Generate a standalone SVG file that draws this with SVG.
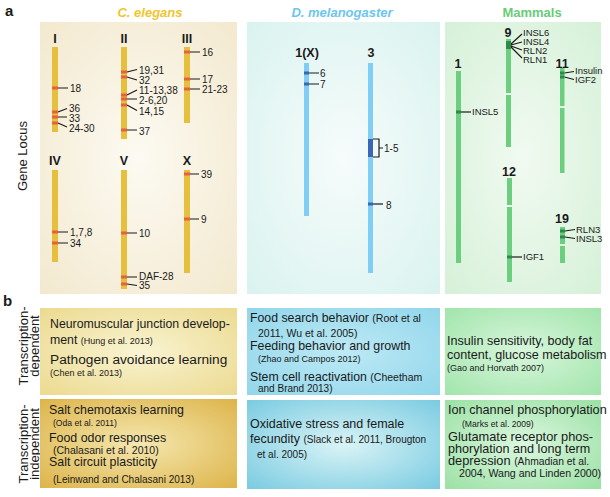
<svg xmlns="http://www.w3.org/2000/svg" width="610" height="497" viewBox="0 0 610 497">
<defs>
<radialGradient id="ceBg" cx="50%" cy="50%" r="70%"><stop offset="0" stop-color="#fcfaf2"/><stop offset="1" stop-color="#f3e9cf"/></radialGradient>
<radialGradient id="dmBg" cx="50%" cy="50%" r="70%"><stop offset="0" stop-color="#f6fcfb"/><stop offset="1" stop-color="#daf3ef"/></radialGradient>
<radialGradient id="mmBg" cx="50%" cy="50%" r="70%"><stop offset="0" stop-color="#f1faf1"/><stop offset="1" stop-color="#d6f1d8"/></radialGradient>
<radialGradient id="ceTop" cx="50%" cy="50%" r="70%"><stop offset="0" stop-color="#f9f4d2"/><stop offset="1" stop-color="#ecda90"/></radialGradient>
<radialGradient id="ceBot" cx="50%" cy="50%" r="70%"><stop offset="0" stop-color="#f5e8b0"/><stop offset="1" stop-color="#ddb44a"/></radialGradient>
<radialGradient id="dmTop" cx="50%" cy="50%" r="70%"><stop offset="0" stop-color="#bdeaf5"/><stop offset="1" stop-color="#92d6eb"/></radialGradient>
<radialGradient id="dmBot" cx="50%" cy="50%" r="70%"><stop offset="0" stop-color="#daf4f6"/><stop offset="1" stop-color="#7acbe1"/></radialGradient>
<radialGradient id="mmTop" cx="50%" cy="50%" r="70%"><stop offset="0" stop-color="#d8f6dc"/><stop offset="1" stop-color="#a2e5ac"/></radialGradient>
<radialGradient id="mmBot" cx="50%" cy="50%" r="70%"><stop offset="0" stop-color="#dcf7df"/><stop offset="1" stop-color="#9be1a5"/></radialGradient>
</defs>
<style>
text{font-family:"Liberation Sans",Arial,Helvetica,sans-serif;fill:#1a1a1a}
.panel{font-weight:bold;font-size:15px}
.title{font-weight:bold;font-style:italic;font-size:13px;text-anchor:middle}
.chr{font-weight:bold;font-size:12.5px;text-anchor:middle}
.gl{font-size:10px}
.ml{font-size:9.5px}
.side{font-size:13px;text-anchor:middle}
.bt{font-size:12.4px}
.sm{font-size:9px}
.sm2{font-size:10px}
.ceb{fill:#e6bf3c}
.cem{fill:#e8603c}
.dmb{fill:#80cdf5}
.dmm{fill:#3a66b8}
.mmb{fill:#6ccf7f}
.mmm{fill:#2e8a48}
.ln{stroke:#1a1a1a;stroke-width:1.2;fill:none}
</style>

<text class="panel" x="5" y="16">a</text>
<text class="panel" x="3" y="306">b</text>
<text class="title" x="150" y="17" style="fill:#efc52e">C. elegans</text>
<text class="title" x="342" y="17" style="fill:#6cc6ef">D. melanogaster</text>
<text class="title" x="532" y="17" style="font-style:normal;fill:#68cc78">Mammals</text>
<text class="side" transform="translate(27,156) rotate(-90)">Gene Locus</text>
<text class="side" transform="translate(27.5,346) rotate(-90)">Transcription-</text>
<text class="side" transform="translate(38.5,346) rotate(-90)">dependent</text>
<text class="side" transform="translate(27.5,444) rotate(-90)">Transcription-</text>
<text class="side" transform="translate(38.5,444) rotate(-90)">independent</text>

<rect x="40" y="22" width="197" height="272" fill="url(#ceBg)"/>
<rect x="247" y="22" width="193" height="272" fill="url(#dmBg)"/>
<rect x="445" y="22" width="156" height="272" fill="url(#mmBg)"/>

<g id="connectors">
<path class="ln" d="M58,88H68 M58,112L67,108.5 M58,117H67 M58,123L67,127"/>
<path class="ln" d="M127,72L137,69.5 M127,77L137,80 M127,95L137,90 M127,99H137 M127,105L137,110.5 M127,130H137"/>
<path class="ln" d="M190,52H200 M190,79H200 M190,89H200"/>
<path class="ln" d="M58,232H68 M58,243H68"/>
<path class="ln" d="M127,233H137 M127,277H137 M127,284L137,285.5"/>
<path class="ln" d="M190,174H199 M190,219H199"/>
<path class="ln" d="M309,73H319 M309,84H319"/>
<path class="ln" d="M373,139H379V157H373 M379,148H383"/>
<path class="ln" d="M373,204H383"/>
<path class="ln" d="M461,112H471"/>
<path class="ln" d="M511,44L522,34 M511,45L522,42 M511,46L522,50 M511,47L522,58"/>
<path class="ln" d="M564.5,73L574,71.5 M564.5,77L574,79.5"/>
<path class="ln" d="M512,257H522"/>
<path class="ln" d="M565,231L575,229.5 M565,237L575,238.5"/>
</g>

<g id="ce-I">
<text class="chr" x="55" y="43">I</text>
<rect class="ceb" x="52" y="47" width="6" height="85"/>
<rect class="cem" x="52" y="86.5" width="6" height="3"/><rect class="cem" x="52" y="110.5" width="6" height="3"/><rect class="cem" x="52" y="115.5" width="6" height="3"/><rect class="cem" x="52" y="121.5" width="6" height="3"/>
<text class="gl" x="70" y="91.6">18</text><text class="gl" x="69" y="112.3">36</text><text class="gl" x="69" y="121.6">33</text><text class="gl" x="69" y="131.6">24-30</text>
</g>
<g id="ce-II">
<text class="chr" x="124" y="43">II</text>
<rect class="ceb" x="121" y="47" width="6" height="92"/>
<rect class="cem" x="121" y="70.5" width="6" height="3"/><rect class="cem" x="121" y="75.5" width="6" height="3"/><rect class="cem" x="121" y="93.5" width="6" height="3"/><rect class="cem" x="121" y="97.5" width="6" height="3"/><rect class="cem" x="121" y="103.5" width="6" height="3"/><rect class="cem" x="121" y="128.5" width="6" height="3"/>
<text class="gl" x="139" y="73.6">19,31</text><text class="gl" x="139" y="83.6">32</text><text class="gl" x="139" y="93.6">11-13,38</text><text class="gl" x="139" y="103.6">2-6,20</text><text class="gl" x="139" y="114.6">14,15</text><text class="gl" x="139" y="134.6">37</text>
</g>
<g id="ce-III">
<text class="chr" x="187" y="43">III</text>
<rect class="ceb" x="184" y="47" width="6" height="76"/>
<rect class="cem" x="184" y="50.5" width="6" height="3"/><rect class="cem" x="184" y="77.5" width="6" height="3"/><rect class="cem" x="184" y="87.5" width="6" height="3"/>
<text class="gl" x="202" y="55.6">16</text><text class="gl" x="202" y="82.6">17</text><text class="gl" x="202" y="92.6">21-23</text>
</g>
<g id="ce-IV">
<text class="chr" x="55" y="165">IV</text>
<rect class="ceb" x="52" y="170" width="6" height="92"/>
<rect class="cem" x="52" y="230.5" width="6" height="3"/><rect class="cem" x="52" y="241.5" width="6" height="3"/>
<text class="gl" x="70" y="235.6">1,7,8</text><text class="gl" x="70" y="246.6">34</text>
</g>
<g id="ce-V">
<text class="chr" x="124" y="165">V</text>
<rect class="ceb" x="121" y="170" width="6" height="119"/>
<rect class="cem" x="121" y="231.5" width="6" height="3"/><rect class="cem" x="121" y="275.5" width="6" height="3"/><rect class="cem" x="121" y="282.5" width="6" height="3"/>
<text class="gl" x="139" y="236.6">10</text><text class="gl" x="139" y="280.2">DAF-28</text><text class="gl" x="139" y="289.4">35</text>
</g>
<g id="ce-X">
<text class="chr" x="187" y="165">X</text>
<rect class="ceb" x="184" y="170" width="6" height="103"/>
<rect class="cem" x="184" y="172.5" width="6" height="3"/><rect class="cem" x="184" y="217.5" width="6" height="3"/>
<text class="gl" x="201" y="177.6">39</text><text class="gl" x="201" y="222.6">9</text>
</g>

<g id="dm-1X">
<text class="chr" x="307" y="57">1(X)</text>
<rect class="dmb" x="304" y="63" width="5" height="153"/>
<rect class="dmm" x="304" y="71.5" width="5" height="3"/><rect class="dmm" x="304" y="82.5" width="5" height="3"/>
<text class="gl" x="320" y="76.6">6</text><text class="gl" x="320" y="87.6">7</text>
</g>
<g id="dm-3">
<text class="chr" x="371" y="57">3</text>
<rect class="dmb" x="368" y="63" width="5" height="210"/>
<rect class="dmm" x="368" y="139" width="5" height="18"/>
<rect class="dmm" x="368" y="202.5" width="5" height="3"/>
<text class="gl" x="384" y="151.6">1-5</text><text class="gl" x="386" y="208.6">8</text>
</g>

<g id="mm-1">
<text class="chr" x="458" y="68">1</text>
<rect class="mmb" x="456" y="71" width="5" height="192"/>
<rect class="mmm" x="456" y="110.5" width="5" height="3"/>
<text class="ml" x="472" y="115.4">INSL5</text>
</g>
<g id="mm-9">
<text class="chr" x="508" y="37">9</text>
<rect class="mmb" x="506" y="39" width="5" height="54"/><rect class="mmb" x="506" y="95" width="5" height="52"/>
<rect class="mmm" x="506" y="41" width="5" height="8"/>
<text class="ml" x="523" y="36.4">INSL6</text><text class="ml" x="523" y="45.4">INSL4</text><text class="ml" x="523" y="54.4">RLN2</text><text class="ml" x="523" y="63.4">RLN1</text>
</g>
<g id="mm-11">
<text class="chr" x="562" y="68">11</text>
<rect class="mmb" x="560" y="68" width="4.5" height="38"/><rect class="mmb" x="560" y="108" width="4.5" height="65"/>
<rect class="mmm" x="560" y="71.5" width="4.5" height="3"/><rect class="mmm" x="560" y="75.5" width="4.5" height="3"/>
<text class="ml" x="575" y="74.4">Insulin</text><text class="ml" x="575" y="83.4">IGF2</text>
</g>
<g id="mm-12">
<text class="chr" x="509" y="176">12</text>
<rect class="mmb" x="507" y="178" width="5" height="27"/><rect class="mmb" x="507" y="207" width="5" height="75"/>
<rect class="mmm" x="507" y="255.5" width="5" height="3"/>
<text class="ml" x="523" y="260.4">IGF1</text>
</g>
<g id="mm-19">
<text class="chr" x="562" y="223">19</text>
<rect class="mmb" x="560" y="227" width="5" height="17"/><rect class="mmb" x="560" y="246" width="5" height="17"/>
<rect class="mmm" x="560" y="229.5" width="5" height="3"/><rect class="mmm" x="560" y="235.5" width="5" height="3"/>
<text class="ml" x="576" y="233.4">RLN3</text><text class="ml" x="576" y="242.4">INSL3</text>
</g>

<g id="box-ce-dep">
<rect x="40" y="308" width="197" height="87" fill="url(#ceTop)"/>
<text class="bt" x="50" y="328" style="font-size:12.3px">Neuromuscular junction develop-</text>
<text class="bt" x="50" y="344" style="font-size:12.3px">ment <tspan class="sm">(Hung et al. 2013)</tspan></text>
<text class="bt" x="50" y="364" style="font-size:13.7px">Pathogen avoidance learning</text>
<text class="sm" x="50" y="376">(Chen et al. 2013)</text>
</g>
<g id="box-ce-indep">
<rect x="40" y="399" width="197" height="89" fill="url(#ceBot)"/>
<text class="bt" x="49" y="414">Salt chemotaxis learning</text>
<text class="sm" x="53" y="426" style="font-size:8.6px">(Oda et al. 2011)</text>
<text class="bt" x="49" y="442">Food odor responses</text>
<text class="sm" x="53" y="453.5" style="font-size:10.5px">(Chalasani et al. 2010)</text>
<text class="bt" x="49" y="466">Salt circuit plasticity</text>
<text class="sm" x="53" y="483" style="font-size:10px">(Leinwand and Chalasani 2013)</text>
</g>
<g id="box-dm-dep">
<rect x="247" y="308" width="193" height="87" fill="url(#dmTop)"/>
<text class="bt" x="250" y="322" style="font-size:12.3px">Food search behavior <tspan style="font-size:10.5px">(Root et al</tspan></text>
<text class="sm" x="258" y="337" style="font-size:10.5px">2011, Wu et al. 2005)</text>
<text class="bt" x="250" y="350">Feeding behavior and growth</text>
<text class="sm" x="258" y="362">(Zhao and Campos 2012)</text>
<text class="bt" x="250" y="381" style="font-size:12.3px">Stem cell reactivation <tspan style="font-size:10.5px">(Cheetham</tspan></text>
<text class="sm" x="258" y="392" style="font-size:10px">and Brand 2013)</text>
</g>
<g id="box-dm-indep">
<rect x="247" y="400" width="193" height="89" fill="url(#dmBot)"/>
<text class="bt" x="250" y="428" style="font-size:12.5px">Oxidative stress and female</text>
<text class="bt" x="250" y="443" style="font-size:12.5px">fecundity <tspan class="sm2">(Slack et al. 2011, Brougton</tspan></text>
<text class="sm2" x="257" y="458">et al. 2005)</text>
</g>
<g id="box-mm-dep">
<rect x="445" y="308" width="156" height="87" fill="url(#mmTop)"/>
<text class="bt" x="447" y="345" style="font-size:12.6px">Insulin sensitivity, body fat</text>
<text class="bt" x="447" y="359" style="font-size:12.6px">content, glucose metabolism</text>
<text class="sm" x="447" y="371">(Gao and Horvath 2007)</text>
</g>
<g id="box-mm-indep">
<rect x="445" y="400" width="156" height="89" fill="url(#mmBot)"/>
<text class="bt" x="448" y="414" style="font-size:12.7px">Ion channel phosphorylation</text>
<text class="sm" x="462" y="427" style="font-size:8.6px">(Marks et al. 2009)</text>
<text class="bt" x="448" y="441" style="font-size:12.8px">Glutamate receptor phos-</text>
<text class="bt" x="448" y="453" style="font-size:12.6px">phorylation and long term</text>
<text class="bt" x="448" y="465" style="font-size:12.8px">depression <tspan style="font-size:10.3px">(Ahmadian et al.</tspan></text>
<text class="sm" x="459" y="477" style="font-size:10.6px">2004, Wang and Linden 2000)</text>
</g>
</svg>
